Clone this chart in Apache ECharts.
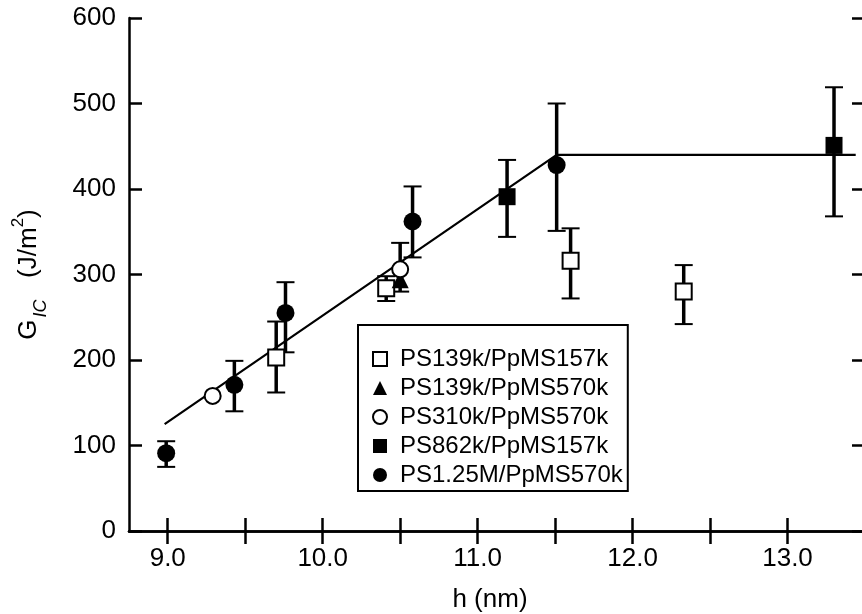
<!DOCTYPE html>
<html>
<head>
    <meta charset="utf-8">
    <title>G_IC vs h</title>
    <script src="https://cdn.jsdelivr.net/npm/echarts@6/dist/echarts.min.js"></script>
    <style>
        html, body { margin: 0; padding: 0; background: #fff; }
    </style>
</head>
<body>
    <div id="main" style="width: 862px; height: 614px;"></div>

    <script>
        // data: h (nm), G_IC (J/m2), error bar low / high
        var hOpenSq = [9.70, 10.41, 11.60, 12.33]
        var gOpenSq = [203, 284, 316, 280]
        var loOpenSq = [162, 269, 272, 242]
        var hiOpenSq = [245, 298, 354, 311]

        var hTri = [10.50]
        var gTri = [294]
        var loTri = [280]
        var hiTri = [337]

        var hOpenCirc = [9.29, 10.50]
        var gOpenCirc = [158, 306]

        var hFillSq = [11.19, 13.30]
        var gFillSq = [391, 451]
        var loFillSq = [344, 368]
        var hiFillSq = [434, 519]

        var hFillCirc = [8.99, 9.43, 9.76, 10.58, 11.51]
        var gFillCirc = [91, 171, 255, 362, 428]
        var loFillCirc = [75, 140, 209, 320, 351]
        var hiFillCirc = [105, 199, 291, 403, 500]

        // bilinear fit drawn in the figure
        var hFit = [8.98, 11.51, 13.44]
        var gFit = [125, 440, 440]

        var xTicks = [9.0, 9.5, 10.0, 10.5, 11.0, 11.5, 12.0, 12.5, 13.0]
        var xLabels = [9.0, 10.0, 11.0, 12.0, 13.0]

        var names = ['PS139k/PpMS157k', 'PS139k/PpMS570k', 'PS310k/PpMS570k', 'PS862k/PpMS157k', 'PS1.25M/PpMS570k']

        var font = '"Liberation Sans", Arial, Helvetica, sans-serif'

        var zip = function(a, b) {
            var out = []
            for (var i = 0; i < a.length; i++) {
                out.push([a[i], b[i]])
            }
            return out
        }
        var zip3 = function(a, b, c) {
            var out = []
            for (var i = 0; i < a.length; i++) {
                out.push([a[i], b[i], c[i]])
            }
            return out
        }

        // vertical error bar with small caps
        var renderErr = function(params, api) {
            var x = api.value(0)
            var top = api.coord([x, api.value(2)])
            var bot = api.coord([x, api.value(1)])
            var cw = 9
            return {
                type: 'group',
                children: [
                    {type: 'line', shape: {x1: top[0], y1: top[1], x2: bot[0], y2: bot[1]},
                        style: {stroke: '#000', lineWidth: 3.5}},
                    {type: 'line', shape: {x1: top[0] - cw, y1: top[1], x2: top[0] + cw, y2: top[1]},
                        style: {stroke: '#000', lineWidth: 2}},
                    {type: 'line', shape: {x1: bot[0] - cw, y1: bot[1], x2: bot[0] + cw, y2: bot[1]},
                        style: {stroke: '#000', lineWidth: 2}}
                ]
            }
        }

        var errSeries = function(name, h, lo, hi) {
            return {
                name: name,
                type: 'custom',
                renderItem: renderErr,
                encode: {x: 0, y: [1, 2]},
                data: zip3(h, lo, hi),
                z: 2,
                silent: true
            }
        }

        var axisLineStyle = {color: '#000', width: 2.5}

        var option = {
            animation: false,
            backgroundColor: '#fff',
            textStyle: {fontFamily: font, color: '#000'},
            grid: {left: 129, top: 18, width: 736, height: 513, outerBoundsMode: 'none', containLabel: false},
            legend: {
                orient: 'vertical',
                left: 358,
                top: 325,
                data: names,
                itemWidth: 14,
                itemHeight: 14,
                itemGap: 5,
                padding: [22, 5, 4, 14],
                borderColor: '#000',
                borderWidth: 2,
                backgroundColor: '#fff',
                textStyle: {fontSize: 24, color: '#000', fontFamily: font, padding: [0, 0, 0, 8]},
                selectedMode: false
            },
            xAxis: [
                {
                    type: 'value',
                    min: 8.75,
                    max: 13.5,
                    name: 'h (nm)',
                    nameLocation: 'middle',
                    nameGap: 56,
                    nameTextStyle: {fontSize: 26, color: '#000', fontFamily: font, padding: [0, 14, 0, 0]},
                    axisLine: {lineStyle: axisLineStyle},
                    axisTick: {inside: true, length: 13, lineStyle: axisLineStyle, customValues: xTicks},
                    axisLabel: {fontSize: 26, color: '#000', margin: 15, customValues: xLabels,
                        formatter: function(v) { return v.toFixed(1) }},
                    splitLine: {show: false}
                },
                {
                    type: 'value',
                    position: 'top',
                    min: 8.75,
                    max: 13.5,
                    axisLine: {lineStyle: axisLineStyle},
                    axisTick: {inside: true, length: 13, lineStyle: axisLineStyle, customValues: xTicks},
                    axisLabel: {show: false},
                    splitLine: {show: false}
                }
            ],
            yAxis: [
                {
                    type: 'value',
                    min: 0,
                    max: 600,
                    interval: 100,
                    name: '{g|G}{sub|IC}{g|   (J/m}{sup|2}{g|)}',
                    nameLocation: 'middle',
                    nameGap: 87,
                    nameTextStyle: {
                        fontSize: 26,
                        color: '#000',
                        fontFamily: font,
                        rich: {
                            g: {fontSize: 26, fontFamily: font, color: '#000'},
                            sub: {fontSize: 18, fontStyle: 'italic', fontFamily: font, color: '#000',
                                verticalAlign: 'bottom', padding: [0, 0, -8, 2]},
                            sup: {fontSize: 17, fontFamily: font, color: '#000',
                                verticalAlign: 'top', padding: [-6, 0, 0, 0]}
                        }
                    },
                    axisLine: {show: true, lineStyle: axisLineStyle},
                    axisTick: {show: true, inside: true, length: 13, lineStyle: axisLineStyle},
                    axisLabel: {fontSize: 26, color: '#000', margin: 13},
                    splitLine: {show: false}
                },
                {
                    type: 'value',
                    position: 'right',
                    min: 0,
                    max: 600,
                    interval: 100,
                    axisLine: {show: true, lineStyle: axisLineStyle},
                    axisTick: {show: true, inside: true, length: 13, lineStyle: axisLineStyle},
                    axisLabel: {show: false},
                    splitLine: {show: false}
                }
            ],
            series: [
                errSeries('errOpenSq', hOpenSq, loOpenSq, hiOpenSq),
                errSeries('errTri', hTri, loTri, hiTri),
                errSeries('errFillSq', hFillSq, loFillSq, hiFillSq),
                errSeries('errFillCirc', hFillCirc, loFillCirc, hiFillCirc),
                {
                    name: 'fit',
                    type: 'line',
                    data: zip(hFit, gFit),
                    symbol: 'none',
                    lineStyle: {color: '#000', width: 2.2},
                    z: 3,
                    silent: true
                },
                {
                    name: names[0],
                    type: 'scatter',
                    symbol: 'rect',
                    symbolSize: 16,
                    data: zip(hOpenSq, gOpenSq),
                    itemStyle: {color: '#fff', borderColor: '#000', borderWidth: 2, opacity: 1},
                    z: 5
                },
                {
                    name: names[1],
                    type: 'scatter',
                    symbol: 'triangle',
                    symbolSize: 17,
                    data: zip(hTri, gTri),
                    itemStyle: {color: '#000', opacity: 1},
                    z: 5
                },
                {
                    name: names[2],
                    type: 'scatter',
                    symbol: 'circle',
                    symbolSize: 16,
                    data: zip(hOpenCirc, gOpenCirc),
                    itemStyle: {color: '#fff', borderColor: '#000', borderWidth: 2, opacity: 1},
                    z: 6
                },
                {
                    name: names[3],
                    type: 'scatter',
                    symbol: 'rect',
                    symbolSize: 17,
                    data: zip(hFillSq, gFillSq),
                    itemStyle: {color: '#000', opacity: 1},
                    z: 5
                },
                {
                    name: names[4],
                    type: 'scatter',
                    symbol: 'circle',
                    symbolSize: 18,
                    data: zip(hFillCirc, gFillCirc),
                    itemStyle: {color: '#000', opacity: 1},
                    z: 5
                }
            ]
        }

        var myChart = echarts.init(document.querySelector('#main'))
        myChart.setOption(option)
    </script>
</body>
</html>
